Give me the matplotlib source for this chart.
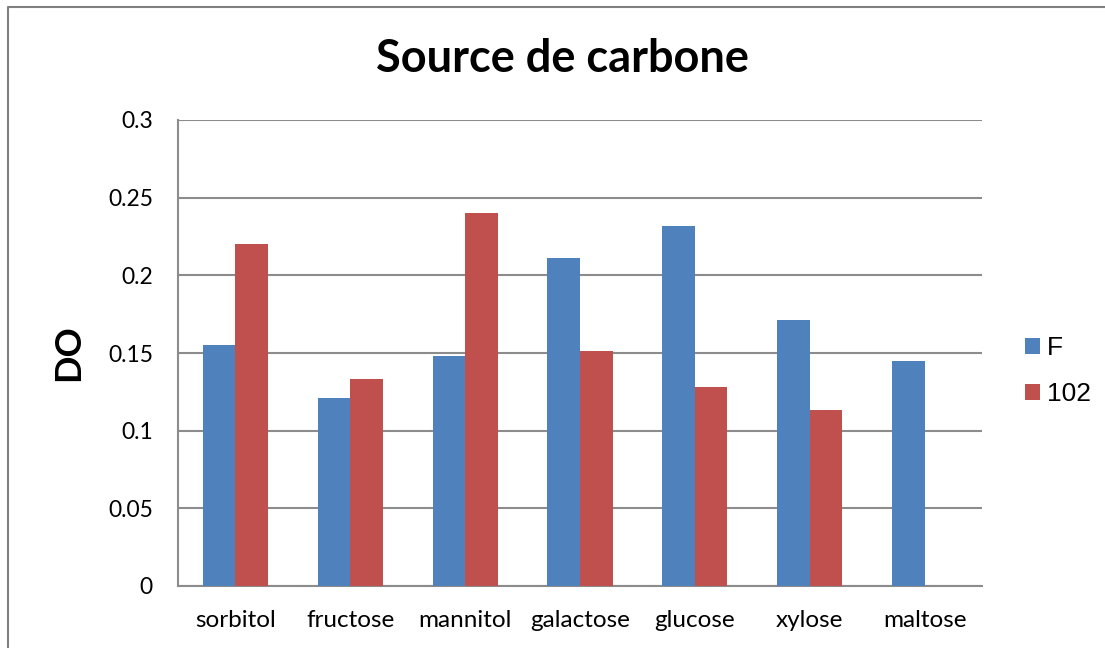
import matplotlib.pyplot as plt
import numpy as np
from matplotlib.lines import Line2D

categories = ['sorbitol', 'fructose', 'mannitol', 'galactose', 'glucose', 'xylose', 'maltose']
values_f = [0.155, 0.121, 0.148, 0.211, 0.232, 0.171, 0.145]
values_102 = [0.220, 0.133, 0.240, 0.151, 0.128, 0.113, 0.0]

BLUE = '#4f81bd'
RED = '#c0504d'
GRID = '#8c8c8c'

fig = plt.figure(figsize=(11.05, 6.48), dpi=100)
ax = fig.add_axes([178 / 1105, 1 - 586 / 648, (982 - 178) / 1105, (586 - 120) / 648])

# outer chart frame: only the left and top edges show in the original
fx, fy = 8 / 1105, 1 - 7 / 648
fig.lines.append(Line2D([fx, fx, 1.0], [0.0, fy, fy], transform=fig.transFigure,
                        color='#808080', linewidth=1.5))

x = np.arange(len(categories))
w = 0.283
ax.bar(x - w / 2, values_f, w, color=BLUE, label='F', zorder=3)
ax.bar(x + w / 2, values_102, w, color=RED, label='102', zorder=3)

ax.set_xlim(-0.5, len(categories) - 0.5)
ax.set_ylim(0, 0.3)
ax.set_yticks([0, 0.05, 0.1, 0.15, 0.2, 0.25, 0.3])
ax.set_yticklabels(['0', '0.05', '0.1', '0.15', '0.2', '0.25', '0.3'])
ax.set_xticks(x)
ax.set_xticklabels(categories)
ax.yaxis.grid(True, color=GRID, linewidth=1.5, zorder=0)
ax.tick_params(axis='both', length=0)
ax.tick_params(axis='y', labelsize=16.5, pad=18)
ax.tick_params(axis='x', labelsize=17.5, pad=17)
for lbl in ax.get_xticklabels() + ax.get_yticklabels():
    lbl.set_family('Lato')

for side in ['top', 'right']:
    ax.spines[side].set_visible(False)
for side in ['left', 'bottom']:
    ax.spines[side].set_color(GRID)
    ax.spines[side].set_linewidth(1.5)

fig.text(69 / 1105, 1 - 353 / 648, 'DO', rotation=90, ha='center', va='center',
         fontsize=26, fontweight='bold', family='Lato')
fig.text(562 / 1105, 1 - 59 / 648, 'Source de carbone', ha='center', va='center',
         fontsize=32.5, fontweight='bold', family='Lato')

fig.legend(loc='center left', bbox_to_anchor=(1001 / 1105, 1 - 371 / 648), frameon=False,
           prop={'family': 'Liberation Sans', 'size': 19}, handlelength=0.57, handleheight=0.57,
           handletextpad=0.27, labelspacing=0.83)

fig.savefig('out.png', dpi=100)
